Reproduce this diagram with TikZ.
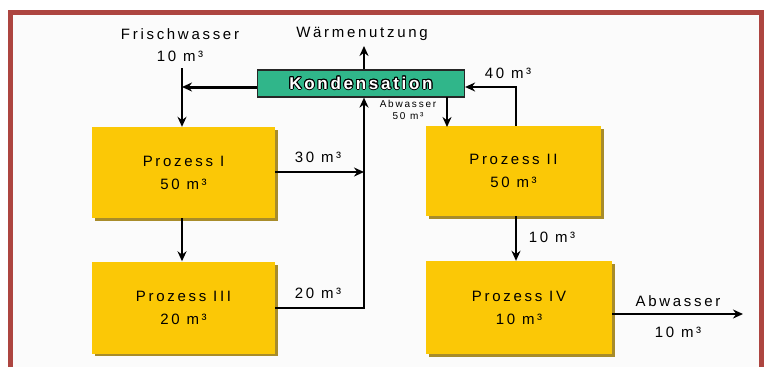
\documentclass[tikz,border=0pt]{standalone}
\usepackage{fontspec}
\setmainfont{Liberation Sans}
\usepackage{contour}
\contourlength{0.9pt}
\usetikzlibrary{arrows.meta,calc}

\definecolor{framered}{HTML}{AD4540}
\definecolor{paper}{HTML}{FBFBFB}
\definecolor{procfill}{HTML}{FBC806}
\definecolor{procshade}{HTML}{A88C2A}
\definecolor{kondfill}{HTML}{30B68A}

\newcommand{\lbl}{\fontsize{15}{23}\selectfont\addfontfeature{LetterSpace=18}}
\newcommand{\smalllbl}{\fontsize{10}{11}\selectfont\addfontfeature{LetterSpace=18}}

\begin{document}
\begin{tikzpicture}[x=1pt,y=-1pt,
  >={Stealth[length=10pt,width=9pt]},
  flow/.style={line width=1.8pt, draw=black},
  heavyflow/.style={line width=3pt, draw=black},
  proc/.style={fill=procfill, inner sep=0pt, align=center, font=\lbl},
  kond/.style={fill=kondfill, draw=black!85, line width=1.2pt, inner sep=0pt,
    font=\fontsize{17}{19}\selectfont\bfseries\addfontfeature{LetterSpace=16}},
  txt/.style={inner sep=0pt, align=center, font=\lbl},
  smalltxt/.style={inner sep=0pt, align=center, font=\smalllbl}]

% page, paper and red frame
\useasboundingbox (0,0) rectangle (768,367);
\fill[white] (0,0) rectangle (768,367);
\fill[paper] (10,12) rectangle (761,367);
\draw[framered, line width=5pt] (10,367) -- (10,12) -- (761,12) -- (761,367);

% process boxes with their drop shadows
\fill[procshade] (94.5,129.5) rectangle (277.5,220.5);
\node[proc, minimum width=183pt, minimum height=91pt] (p1) at (183.5,172.5) {Prozess I\\50 m³};
\fill[procshade] (94.5,264.5) rectangle (277.5,355.5);
\node[proc, minimum width=183pt, minimum height=92pt] (p3) at (183.5,307.5) {Prozess III\\20 m³};
\fill[procshade] (428.5,128.5) rectangle (603.5,218.5);
\node[proc, minimum width=175pt, minimum height=90pt] (p2) at (513.5,171) {Prozess II\\50 m³};
\fill[procshade] (428.5,263.5) rectangle (614.5,356.5);
\node[proc, minimum width=186pt, minimum height=93pt] (p4) at (519,307.5) {Prozess IV\\10 m³};

% condenser: white lettering with a black contour
\node[kond, minimum width=207pt, minimum height=27pt] (kd) at (361,83.5) {\contour{black}{\textcolor{white}{Kondensation}}};

% labels
\node[txt] (fw) at (180,34) {Frischwasser};
\node[txt] (fwq) at (180,56) {10 m³};
\node[txt] (wn) at (362,34) {Wärmenutzung};
\node[txt] (q30) at (318,157) {30 m³};
\node[txt] (q20) at (318,293) {20 m³};
\node[txt] (q40) at (508,73) {40 m³};
\node[txt] (q10) at (552,237) {10 m³};
\node[txt] (aw) at (678,301) {Abwasser};
\node[txt] (awq) at (678,332) {10 m³};
\node[smalltxt] (kaw) at (408,104) {Abwasser};
\node[smalltxt] (kawq) at (408,116) {50 m³};

% junction points
\coordinate (fwtop) at (182,68);
\coordinate (fwj) at (182,87);
\coordinate (c1) at (364,172);
\coordinate (c3) at (364,308);
\coordinate (wtop) at (364,46);
\coordinate (r1) at (516,87);
\coordinate (out) at (743,314);

% fresh water and recycled water into process I
\draw[flow,->] (fwtop) -- (fwj) -- (fwj |- p1.north);
\draw[heavyflow,->] (kd.west |- fwj) -- (fwj);
% process I to process III
\draw[flow,->] (p1.south -| fwj) -- (p3.north -| fwj);
% collector from processes I and III up to the condenser
\draw[flow,->] (p1.east |- c1) -- (c1);
\draw[flow,->] (p3.east |- c3) -- (c3) -- (c3 |- kd.south);
% heat use
\draw[flow,->] (kd.north -| wtop) -- (wtop);
% condenser down to process II
\draw[flow,->] (447,97) -- (447,127);
% process II back to the condenser
\draw[flow,->] (p2.north -| r1) -- (r1) -- (kd.east |- r1);
% process II to process IV
\draw[flow,->] (p2.south -| r1) -- (p4.north -| r1);
% waste water out
\draw[flow,->] (p4.east |- out) -- (out);
\end{tikzpicture}
\end{document}
